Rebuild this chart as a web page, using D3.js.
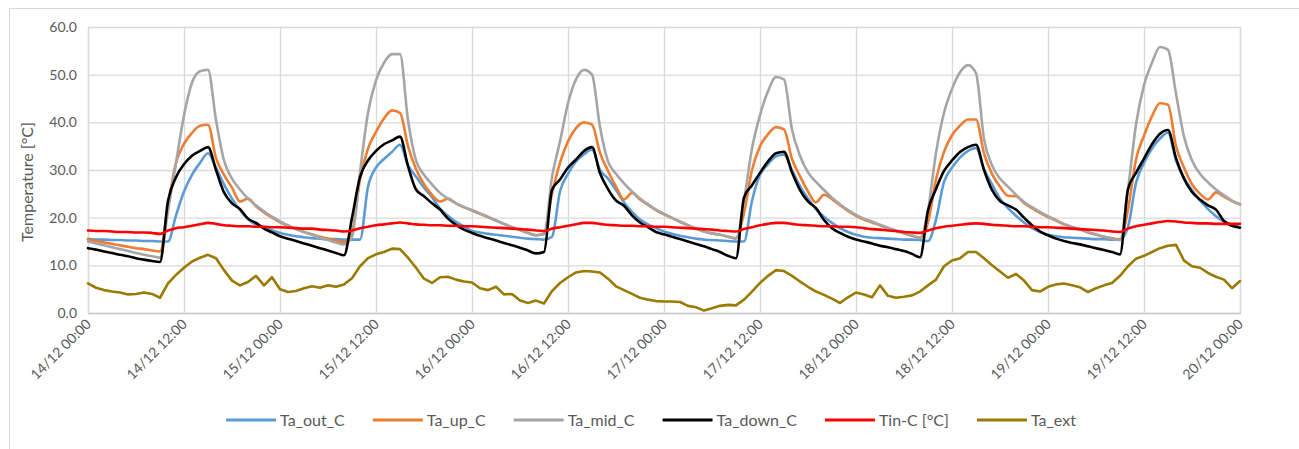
<!DOCTYPE html>
<html><head><meta charset="utf-8">
<script src="https://cdn.jsdelivr.net/npm/d3@7/dist/d3.min.js"></script>
<style>
body{margin:0;background:#fff}
svg{display:block}
text{font-family:Lato,"Open Sans",sans-serif;fill:#595959}
</style>
</head><body>
<svg id="chart" width="1299" height="449"></svg>
<script>
// ---- data (hourly readings, 14/12 00:00 .. 20/12 00:00) ----
const tickLabels = ["14/12 00:00","14/12 12:00","15/12 00:00","15/12 12:00","16/12 00:00","16/12 12:00",
  "17/12 00:00","17/12 12:00","18/12 00:00","18/12 12:00","19/12 00:00","19/12 12:00","20/12 00:00"];
const yTickValues = [0,10,20,30,40,50,60];

const taOut = [
15.5,15.4,15.4,15.3,15.3,15.2,15.2,15.1,15.1,15.0,15.0,20.5,25.5,29.0,31.5,33.5,30.5,27.0,24.0,21.6,19.7,18.5,18.0,17.3,16.8,
16.4,16.1,15.9,15.7,15.6,15.5,15.5,15.4,15.4,15.4,26.5,30.5,32.3,33.8,35.3,31.0,28.6,26.3,24.3,21.9,20.4,19.1,18.2,17.2,
16.9,16.6,16.4,16.2,16.0,15.8,15.6,15.5,15.4,16.0,25.5,29.2,31.8,33.3,34.3,30.0,28.2,25.8,23.2,21.2,19.6,18.6,17.8,17.1,
16.6,16.2,15.9,15.6,15.4,15.3,15.2,15.1,15.0,15.0,23.5,29.0,31.2,32.9,33.2,30.0,26.6,24.0,21.8,20.2,18.9,17.8,17.0,16.4,
16.0,15.8,15.7,15.6,15.5,15.4,15.4,15.3,15.1,19.6,27.5,30.5,32.6,34.0,34.6,30.2,27.0,24.0,22.0,20.4,19.0,17.8,17.0,16.4,
16.1,15.9,15.8,15.7,15.6,15.5,15.5,15.4,15.4,18.0,27.3,31.5,34.5,36.6,37.8,32.0,28.3,25.8,23.6,21.8,20.3,19.2,18.5,18.0];

const taUp = [
15.4,15.1,14.8,14.5,14.2,13.9,13.6,13.4,13.1,12.9,22.5,31.5,35.5,37.8,39.3,39.5,32.5,29.0,26.3,23.4,24.0,22.4,21.1,20.0,19.0,
18.3,17.6,17.0,16.5,16.0,15.6,15.2,14.9,17.0,28.0,34.5,38.0,40.8,42.5,42.0,35.0,30.2,27.0,24.8,23.4,24.0,23.0,22.2,21.5,
20.8,20.1,19.4,18.7,18.0,17.4,16.8,16.3,16.7,25.0,31.5,36.0,38.8,40.0,39.5,33.6,29.8,26.5,23.8,25.2,23.8,22.7,21.6,20.7,
19.9,19.1,18.4,17.7,17.1,16.7,16.4,16.0,15.7,21.0,30.0,35.0,37.5,39.0,38.5,32.3,28.7,25.5,23.2,24.8,23.9,22.6,21.4,20.4,
19.6,19.0,18.4,17.8,17.2,16.7,16.2,15.8,19.0,28.0,33.8,37.3,39.3,40.6,40.6,33.5,29.2,26.5,24.6,24.5,23.1,22.0,21.0,20.1,
19.4,18.6,18.0,17.5,16.9,16.4,16.0,15.7,15.4,21.7,32.2,37.2,41.3,44.0,43.7,35.0,30.5,27.0,25.0,23.8,25.3,24.4,23.5,22.8];

const taMid = [
15.0,14.6,14.2,13.8,13.4,13.0,12.6,12.2,11.9,11.6,21.5,31.5,41.5,48.3,50.7,51.0,40.5,32.0,28.2,25.9,24.0,22.6,21.3,20.2,19.2,
18.4,17.6,17.0,16.4,15.8,15.3,14.8,14.4,16.0,29.5,42.0,48.8,52.5,54.3,54.3,40.5,32.0,29.0,27.0,25.2,24.0,23.0,22.2,21.6,
20.9,20.2,19.4,18.7,18.0,17.4,16.8,16.3,16.5,28.5,36.0,44.0,49.0,51.0,50.0,39.0,31.8,29.2,27.2,25.5,24.0,22.8,21.7,20.8,
20.0,19.2,18.4,17.7,17.1,16.7,16.4,16.0,15.6,23.6,34.5,41.5,46.5,49.5,49.0,38.5,33.0,29.5,27.5,25.8,24.2,22.8,21.6,20.6,
19.8,19.2,18.5,17.9,17.3,16.8,16.3,15.7,21.5,33.6,42.0,47.0,50.5,52.0,50.3,36.5,31.0,28.2,26.5,24.8,23.3,22.2,21.2,20.3,
19.5,18.7,18.1,17.6,17.0,16.5,16.0,15.6,15.3,26.0,39.5,47.8,52.5,55.8,55.2,46.0,37.0,32.0,29.2,27.4,25.9,24.7,23.6,22.8];

const taDown = [
13.6,13.3,12.9,12.6,12.2,11.9,11.5,11.2,10.9,10.7,23.5,28.5,31.2,33.0,34.0,34.8,30.0,25.3,23.0,21.8,19.8,18.9,17.7,16.9,16.1,
15.6,15.1,14.6,14.1,13.6,13.1,12.6,12.1,20.0,28.5,32.0,34.0,35.4,36.2,37.0,30.8,25.9,24.5,23.0,21.7,19.8,18.5,17.5,16.8,
16.2,15.7,15.2,14.7,14.2,13.7,13.1,12.5,12.8,25.8,28.0,30.5,32.2,34.0,34.8,29.3,26.0,23.6,22.5,20.5,19.0,18.0,17.0,16.5,
16.0,15.5,15.0,14.5,14.0,13.4,12.8,12.0,11.5,24.2,26.8,29.4,31.8,33.5,33.8,29.5,25.8,23.4,22.0,19.5,17.8,16.8,16.0,15.4,
15.0,14.6,14.1,13.8,13.4,13.0,12.4,11.7,21.5,26.0,29.8,32.0,33.8,34.8,35.3,30.0,25.8,23.5,22.6,21.7,20.0,18.4,17.1,16.3,
15.6,15.1,14.7,14.4,14.0,13.6,13.2,12.8,12.3,26.0,29.4,32.4,35.4,37.6,38.4,32.5,28.2,25.4,23.8,22.6,21.7,19.3,18.3,17.9];

const tinC = [
17.3,17.2,17.2,17.1,17.0,17.0,16.9,16.9,16.8,16.6,17.3,17.8,18.0,18.3,18.6,18.9,18.7,18.4,18.3,18.2,18.2,18.1,18.1,18.0,18.0,
17.9,17.8,17.7,17.7,17.5,17.4,17.3,17.1,17.3,17.8,18.1,18.4,18.6,18.8,19.0,18.8,18.6,18.5,18.4,18.4,18.3,18.3,18.2,18.2,
18.1,18.0,17.9,17.8,17.7,17.6,17.5,17.3,17.2,17.7,18.0,18.3,18.6,18.9,18.9,18.7,18.5,18.4,18.3,18.3,18.2,18.2,18.1,18.1,
18.0,17.9,17.8,17.7,17.6,17.5,17.3,17.2,17.1,17.6,18.0,18.4,18.7,18.9,18.9,18.7,18.5,18.4,18.3,18.2,18.2,18.1,18.1,18.0,
17.8,17.6,17.5,17.3,17.2,17.0,16.9,16.8,17.3,17.8,18.1,18.3,18.5,18.7,18.8,18.7,18.5,18.4,18.3,18.2,18.2,18.1,18.0,18.0,
17.9,17.8,17.7,17.6,17.5,17.4,17.3,17.1,17.0,17.7,18.2,18.5,18.8,19.1,19.3,19.2,19.0,18.9,18.8,18.8,18.7,18.7,18.7,18.7];

const taExt = [
6.2,5.3,4.8,4.5,4.3,3.9,4.0,4.3,4.0,3.2,6.2,8.0,9.5,10.8,11.6,12.2,11.5,9.0,6.8,5.8,6.5,7.8,5.8,7.5,5.0,
4.4,4.6,5.2,5.6,5.3,5.8,5.5,6.0,7.3,9.8,11.5,12.3,12.8,13.5,13.4,11.6,9.5,7.2,6.3,7.5,7.6,7.0,6.6,6.4,
5.2,4.8,5.5,3.9,4.0,2.6,2.1,2.6,2.0,4.6,6.3,7.5,8.5,8.8,8.7,8.5,7.2,5.6,4.8,4.0,3.2,2.8,2.5,2.4,
2.4,2.3,1.5,1.2,0.5,1.0,1.5,1.7,1.6,2.8,4.5,6.3,7.8,9.0,8.8,7.8,6.6,5.5,4.5,3.8,3.0,2.1,3.3,4.3,
3.9,3.3,5.8,3.6,3.2,3.4,3.7,4.5,5.8,7.0,9.8,11.0,11.5,12.8,12.8,11.5,10.0,8.7,7.4,8.2,6.8,4.8,4.5,5.5,
6.0,6.2,5.8,5.4,4.4,5.2,5.8,6.3,7.8,9.8,11.4,12.0,12.8,13.6,14.1,14.3,11.0,9.8,9.5,8.4,7.6,7.0,5.2,6.7];

const seriesNames = ["Ta_out_C","Ta_up_C","Ta_mid_C","Ta_down_C","Tin-C [°C]","Ta_ext"];
const seriesValues = [taOut, taUp, taMid, taDown, tinC, taExt];
const seriesColors = ["#5b9bd5","#ed7d31","#a5a5a5","#000000","#ff0000","#9a7a00"];

seriesValues.forEach((s,i)=>{ if(s.length!==145) throw new Error(seriesNames[i]+" has "+s.length+" values"); });

// ---- layout ----
const W = 1299, H = 449;
const m = {left:88, right:1240, top:27, bottom:313};
const svg = d3.select("#chart");

svg.append("rect").attr("x",9.5).attr("y",8.5).attr("width",W).attr("height",H)
  .attr("fill","#fff").attr("stroke","#d9d9d9").attr("stroke-width",1);

const x = d3.scaleLinear().domain([0,144]).range([m.left,m.right]);
const y = d3.scaleLinear().domain([0,60]).range([m.bottom,m.top]);
const hourTicks = tickLabels.map((d,i)=>i*12);

// horizontal gridlines + y labels
const yAxis = d3.axisLeft(y).tickValues(yTickValues).tickSize(-(m.right-m.left))
  .tickPadding(11).tickFormat(d3.format(".1f"));
const gy = svg.append("g").attr("transform",`translate(${m.left},0)`).call(yAxis);
gy.select(".domain").remove();
gy.selectAll("line").attr("stroke","#d9d9d9").attr("stroke-width",1.3);
gy.selectAll("text").attr("font-size",14).style("font-family","Lato,sans-serif").attr("fill","#595959");

// vertical gridlines
const xAxis = d3.axisBottom(x).tickValues(hourTicks).tickSize(-(m.bottom-m.top)).tickFormat("");
const gx = svg.append("g").attr("transform",`translate(0,${m.bottom})`).call(xAxis);
gx.select(".domain").attr("stroke","#c9c9c9").attr("stroke-width",1.3);
gx.selectAll("line").attr("stroke","#d9d9d9").attr("stroke-width",1.3);

// x labels rotated
svg.append("g").selectAll("text").data(tickLabels).join("text")
  .attr("transform",(d,i)=>`translate(${x(hourTicks[i])+4},${m.bottom+12}) rotate(-45)`)
  .attr("text-anchor","end").attr("font-size",14).text(d=>d);

// axis title
svg.append("text").attr("transform",`translate(33,${(m.top+m.bottom)/2+12}) rotate(-90)`)
  .attr("text-anchor","middle").attr("font-size",16).text("Temperature [°C]");

// series
const smooth = d3.line().x((d,i)=>x(i)).y(d=>y(d)).curve(d3.curveMonotoneX);
const straight = d3.line().x((d,i)=>x(i)).y(d=>y(d));
svg.append("g").selectAll("path").data(seriesValues).join("path")
  .attr("d",(d,i)=> i===5 ? straight(d) : smooth(d)).attr("fill","none")
  .attr("stroke",(d,i)=>seriesColors[i]).attr("stroke-width",2.6)
  .attr("stroke-linejoin","round").attr("stroke-linecap","round");

// legend
const lg = svg.append("g");
const items = lg.selectAll("g").data(seriesNames).join("g");
items.append("line").attr("x1",0).attr("x2",50).attr("y1",0).attr("y2",0)
  .attr("stroke",(d,i)=>seriesColors[i]).attr("stroke-width",3);
items.append("text").attr("x",54).attr("y",5.5).attr("font-size",16).text(d=>d);
let cx = 0; const offs = [];
items.each(function(){ const w = 54 + this.querySelector("text").getComputedTextLength(); offs.push(cx); cx += w + 28; });
const total = cx - 28;
const startX = 651 - total/2;
items.attr("transform",(d,i)=>`translate(${startX+offs[i]},420)`);
</script>
</body></html>
